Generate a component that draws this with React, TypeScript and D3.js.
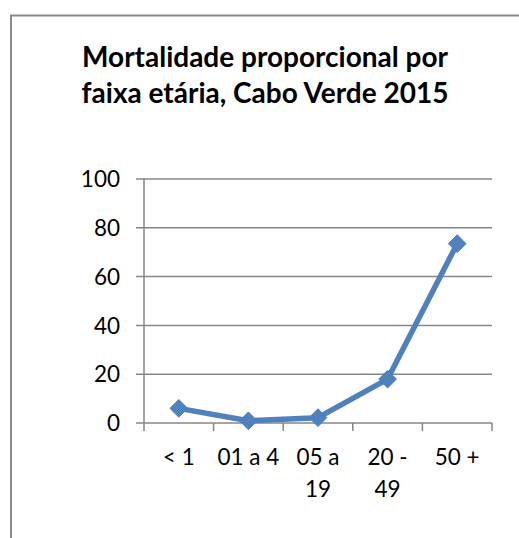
import React, { useEffect, useRef } from 'react';
import * as d3 from 'd3';

// Mortalidade proporcional por faixa etária, Cabo Verde 2015
const categories = ['< 1', '01 a 4', '05 a 19', '20 - 49', '50 +'];
const categoryLines = [['< 1'], ['01 a 4'], ['05 a', '19'], ['20 -', '49'], ['50 +']];
const values = [6.0, 0.9, 2.2, 18.0, 73.5];
const yTicks = [0, 20, 40, 60, 80, 100];
const titleLines = ['Mortalidade proporcional por', 'faixa etária, Cabo Verde 2015'];

export default function App() {
  const svgRef = useRef<SVGSVGElement>(null);

  useEffect(() => {
    const width = 519;
    const height = 538;
    const plot = { left: 144, right: 492, top: 179, bottom: 423 };
    const font = 'Lato, "Open Sans", sans-serif';

    const svg = d3.select(svgRef.current);
    svg.selectAll('*').remove();
    svg.attr('width', width).attr('height', height);

    // chart frame (runs off the right and bottom of the picture)
    svg.append('rect')
      .attr('x', 11).attr('y', 15.5)
      .attr('width', 560).attr('height', 560)
      .attr('fill', '#fff').attr('stroke', '#898989').attr('stroke-width', 2);

    // Title
    svg.append('g').selectAll('text').data(titleLines).join('text')
      .attr('x', 265).attr('y', (d, i) => 67 + i * 36)
      .attr('text-anchor', 'middle')
      .attr('font-family', font).attr('font-weight', 'bold').attr('font-size', '28px')
      .attr('fill', '#000')
      .text(d => d);

    const x = d3.scaleBand().domain(categories).range([plot.left, plot.right]);
    const y = d3.scaleLinear().domain([0, 100]).range([plot.bottom, plot.top]);

    // Gridlines
    svg.append('g').selectAll('line').data(yTicks).join('line')
      .attr('x1', plot.left - 8).attr('x2', plot.right)
      .attr('y1', d => y(d)).attr('y2', d => y(d))
      .attr('stroke', '#868686').attr('stroke-width', 1.5);

    // y axis line
    svg.append('line')
      .attr('x1', plot.left).attr('x2', plot.left)
      .attr('y1', plot.top).attr('y2', plot.bottom)
      .attr('stroke', '#868686').attr('stroke-width', 1.5);

    // x tick marks
    const tickX = categories.map(c => x(c) as number).concat([plot.right]);
    svg.append('g').selectAll('line').data(tickX).join('line')
      .attr('x1', d => d).attr('x2', d => d)
      .attr('y1', plot.bottom).attr('y2', plot.bottom + 8)
      .attr('stroke', '#868686').attr('stroke-width', 1.5);

    // y labels
    svg.append('g').selectAll('text').data(yTicks).join('text')
      .attr('x', plot.left - 24).attr('y', d => y(d))
      .attr('dy', '0.36em')
      .attr('text-anchor', 'end')
      .attr('font-family', font).attr('font-size', '22.5px').attr('fill', '#000')
      .text(d => d);

    // x labels
    const xl = svg.append('g').selectAll('text').data(categories).join('text')
      .attr('text-anchor', 'middle')
      .attr('font-family', font).attr('font-size', '22.5px').attr('fill', '#000');
    xl.each(function (d, i) {
      const t = d3.select(this);
      categoryLines[i].forEach((line, j) => {
        t.append('tspan')
          .attr('x', (x(d) as number) + x.bandwidth() / 2)
          .attr('y', 465 + j * 32)
          .text(line);
      });
    });

    const cx = (c: string) => (x(c) as number) + x.bandwidth() / 2;
    const pts = categories.map((c, i) => ({ c, v: values[i] }));

    // Line
    const line = d3.line<{ c: string; v: number }>().x(d => cx(d.c)).y(d => y(d.v));
    svg.append('path').datum(pts)
      .attr('d', line)
      .attr('fill', 'none').attr('stroke', '#4F81BD').attr('stroke-width', 5.5)
      .attr('stroke-linejoin', 'round');

    // Diamond markers
    const diamond = d3.symbol().type(d3.symbolDiamond2).size(200);
    svg.append('g').selectAll('path').data(pts).join('path')
      .attr('transform', d => `translate(${cx(d.c)},${y(d.v)})`)
      .attr('d', diamond)
      .attr('fill', '#4F81BD').attr('stroke', '#4A7EBB').attr('stroke-width', 1);
  }, []);

  return (
    <div>
      <svg ref={svgRef} style={{ display: 'block', position: 'absolute', left: 0, top: 0 }} />
    </div>
  );
}
